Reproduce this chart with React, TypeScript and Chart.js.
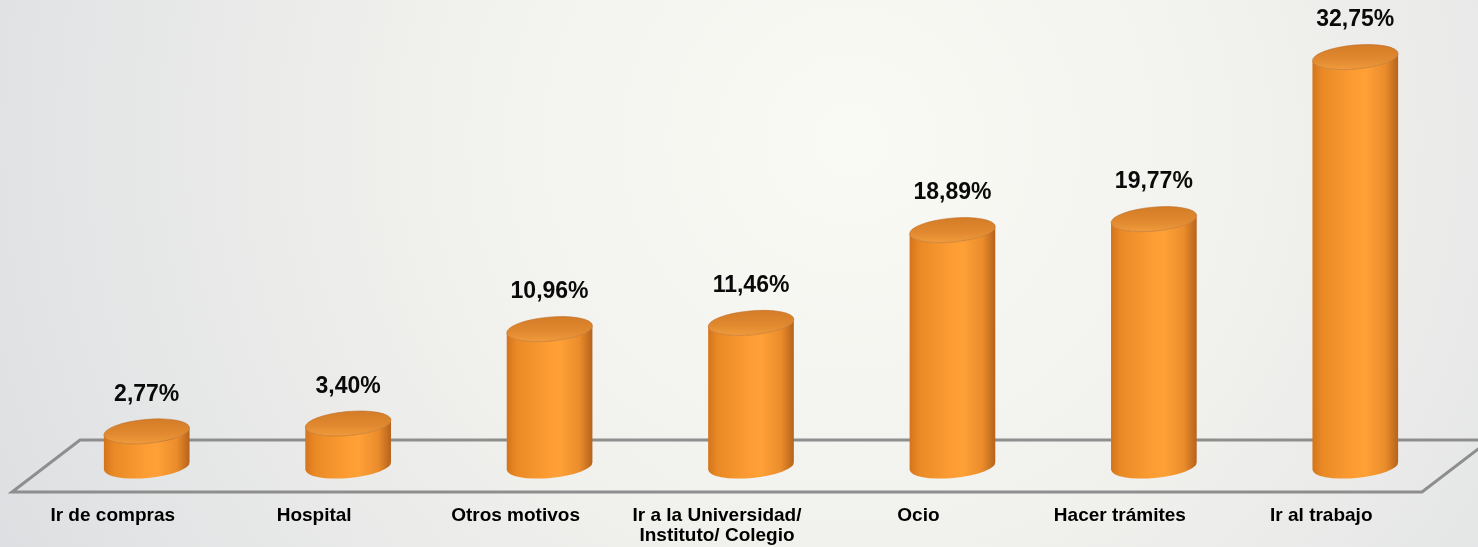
import React, { useEffect, useRef } from "react";
import { Chart, registerables } from "chart.js";

Chart.register(...registerables);

// ---- data ----
const categories: (string | string[])[] = [
  "Ir de compras",
  "Hospital",
  "Otros motivos",
  ["Ir a la Universidad/", "Instituto/ Colegio"],
  "Ocio",
  "Hacer trámites",
  "Ir al trabajo",
];
const values: number[] = [2.77, 3.4, 10.96, 11.46, 18.89, 19.77, 32.75];
const yMin = 0;
const yMax = 39.4;

// ---- styling ----
const FONT = "Arial, 'Liberation Sans', sans-serif";
const DEPTH_X = 68;
const DEPTH_Y = 52;
const RY = 12;
const TILT = -0.09;

const fmt = (v: number) => v.toFixed(2).replace(".", ",") + "%";

const bgPlugin = {
  id: "bg3d",
  beforeDraw(chart: any) {
    const { ctx, width, height } = chart;
    ctx.save();
    const g = ctx.createRadialGradient(850, 140, 0, 850, 140, 980);
    g.addColorStop(0, "#fafaf5");
    g.addColorStop(0.45, "#f0f0ed");
    g.addColorStop(1, "#dcdee1");
    ctx.fillStyle = g;
    ctx.fillRect(0, 0, width, height);
    ctx.restore();
  },
};

const floorPlugin = {
  id: "floor3d",
  beforeDatasetsDraw(chart: any) {
    const { ctx, chartArea } = chart;
    const { left, right, bottom } = chartArea;
    ctx.save();
    ctx.strokeStyle = "#8e8e8e";
    ctx.lineWidth = 3;
    ctx.lineJoin = "miter";
    ctx.beginPath();
    ctx.moveTo(right + DEPTH_X + 40, bottom - DEPTH_Y);
    ctx.lineTo(left + DEPTH_X, bottom - DEPTH_Y);
    ctx.lineTo(left, bottom);
    ctx.lineTo(right, bottom);
    ctx.lineTo(right + DEPTH_X, bottom - DEPTH_Y);
    ctx.stroke();
    ctx.restore();
  },
};

const cylinderPlugin = {
  id: "cyl3d",
  afterDatasetsDraw(chart: any) {
    const { ctx } = chart;
    const meta = chart.getDatasetMeta(0);
    const data = chart.data.datasets[0].data as number[];
    ctx.save();
    meta.data.forEach((el: any, i: number) => {
      const rx = el.width / 2;
      const cx = el.x + DEPTH_X / 2;
      const by = el.base - DEPTH_Y / 2;
      const ty = el.y - DEPTH_Y / 2;
      const c = Math.cos(TILT);
      const s = Math.sin(TILT);

      // body
      const g = ctx.createLinearGradient(cx - rx, 0, cx + rx, 0);
      g.addColorStop(0, "#d4741b");
      g.addColorStop(0.12, "#ea8a26");
      g.addColorStop(0.5, "#fd9d33");
      g.addColorStop(0.62, "#ffa137");
      g.addColorStop(0.85, "#ea8c2b");
      g.addColorStop(1, "#b5621b");
      ctx.beginPath();
      ctx.moveTo(cx + rx * c, ty + rx * s);
      ctx.lineTo(cx + rx * c, by + rx * s);
      ctx.ellipse(cx, by, rx, RY, TILT, 0, Math.PI, false);
      ctx.lineTo(cx - rx * c, ty - rx * s);
      ctx.ellipse(cx, ty, rx, RY, TILT, Math.PI, 0, true);
      ctx.closePath();
      ctx.fillStyle = g;
      ctx.fill();

      // top cap
      const tg = ctx.createLinearGradient(cx, ty - RY, cx, ty + RY);
      tg.addColorStop(0, "#d47c27");
      tg.addColorStop(0.6, "#e08930");
      tg.addColorStop(1, "#ef9a3c");
      ctx.beginPath();
      ctx.ellipse(cx, ty, rx, RY, TILT, 0, Math.PI * 2);
      ctx.fillStyle = tg;
      ctx.fill();
      ctx.lineWidth = 1;
      ctx.strokeStyle = "rgba(190,110,40,0.6)";
      ctx.stroke();

      // value label
      ctx.fillStyle = "#0a0a0a";
      ctx.font = `bold 23px ${FONT}`;
      ctx.textAlign = "center";
      ctx.textBaseline = "middle";
      ctx.fillText(fmt(data[i]), cx, ty - RY - 25);
    });
    ctx.restore();
  },
};

export default function App() {
  const ref = useRef<HTMLCanvasElement | null>(null);

  useEffect(() => {
    if (!ref.current) return;
    const chart = new Chart(ref.current, {
      type: "bar",
      data: {
        labels: categories as any,
        datasets: [
          {
            data: values,
            backgroundColor: "rgba(0,0,0,0)",
            borderWidth: 0,
            categoryPercentage: 1,
            barPercentage: 0.427,
          },
        ],
      },
      options: {
        animation: false,
        responsive: true,
        maintainAspectRatio: false,
        layout: { padding: { left: 12, right: 56, top: 0, bottom: 0 } },
        plugins: {
          legend: { display: false },
          tooltip: { enabled: false },
        },
        scales: {
          x: {
            grid: { display: false, drawTicks: false },
            border: { display: false },
            ticks: {
              color: "#000000",
              font: { family: FONT, size: 19, weight: "bold", lineHeight: 1.05 },
              padding: 14,
              maxRotation: 0,
              autoSkip: false,
            },
            afterFit(scale: any) {
              scale.height = 55;
            },
          },
          y: {
            display: false,
            min: yMin,
            max: yMax,
          },
        },
      },
      plugins: [bgPlugin, floorPlugin, cylinderPlugin],
    });
    return () => chart.destroy();
  }, []);

  return (
    <div style={{ position: "fixed", left: 0, top: 0, width: 1478, height: 547 }}>
      <canvas ref={ref} />
    </div>
  );
}
